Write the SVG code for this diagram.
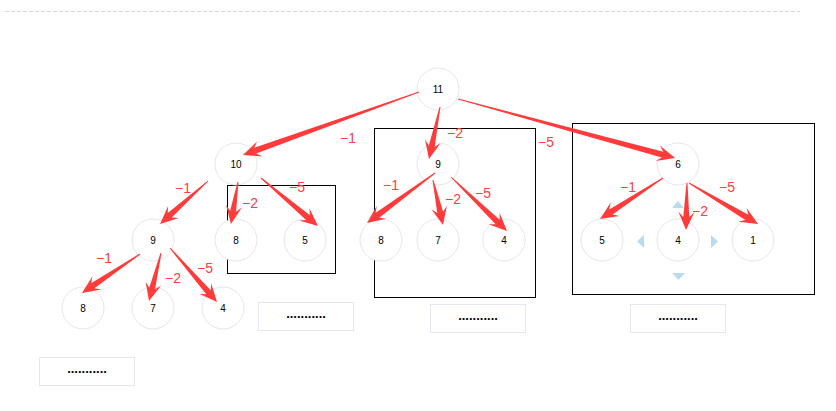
<svg xmlns="http://www.w3.org/2000/svg" width="836" height="411" viewBox="0 0 836 411">
<defs>
<style>
.node circle{fill:#fff;stroke:#e6e6ee;stroke-width:1}
.node text{font-family:"Liberation Sans",Arial,sans-serif;font-size:10px;fill:#000;text-anchor:middle;dominant-baseline:central}
.arrow{fill:#ff3b3b}
.lbl{font-family:"Liberation Sans",Arial,sans-serif;font-size:14px;fill:#ff4040;text-anchor:middle;dominant-baseline:central}
.frame{fill:none;stroke:#000;stroke-width:1}
.dots rect{fill:#fff;stroke:#e6e6ee;stroke-width:1}
.dots text{font-family:"Liberation Sans",Arial,sans-serif;font-size:13px;font-weight:bold;fill:#000;text-anchor:middle}
.tri{fill:#b8dcee}
</style>
</defs>
<rect width="836" height="411" fill="#fff"/>
<line x1="5" y1="11.5" x2="800" y2="11.5" stroke="#d8d8d8" stroke-width="1" stroke-dasharray="4,2"/>

<g id="frames">
<rect class="frame" x="227.5" y="185.5" width="108" height="88"/>
<rect class="frame" x="374.5" y="128.5" width="161" height="169"/>
<rect class="frame" x="572.5" y="123.5" width="242" height="171"/>
</g>

<g id="placeholders">
<g class="dots" id="dots1"><rect x="39.5" y="357.5" width="95" height="28"/><text x="87" y="373">...........</text></g>
<g class="dots" id="dots2"><rect x="258.5" y="302.5" width="95" height="28"/><text x="306" y="318">...........</text></g>
<g class="dots" id="dots3"><rect x="430.5" y="304.5" width="95" height="28"/><text x="478" y="320">...........</text></g>
<g class="dots" id="dots4"><rect x="630.5" y="304.5" width="95" height="28"/><text x="678" y="320">...........</text></g>
</g>

<g id="nodes">
<g class="node" id="n11"><circle cx="438" cy="89" r="21"/><text x="438" y="89">11</text></g>
<g class="node" id="n10"><circle cx="236" cy="164" r="21"/><text x="236" y="164">10</text></g>
<g class="node" id="n9m"><circle cx="438" cy="164" r="21"/><text x="438" y="164">9</text></g>
<g class="node" id="n6"><circle cx="678" cy="164" r="21"/><text x="678" y="164">6</text></g>
<g class="node" id="n9l"><circle cx="153" cy="240" r="21"/><text x="153" y="240">9</text></g>
<g class="node" id="n8a"><circle cx="236" cy="240" r="21"/><text x="236" y="240">8</text></g>
<g class="node" id="n5a"><circle cx="305" cy="240" r="21"/><text x="305" y="240">5</text></g>
<g class="node" id="n8b"><circle cx="381" cy="240" r="21"/><text x="381" y="240">8</text></g>
<g class="node" id="n7b"><circle cx="438" cy="240" r="21"/><text x="438" y="240">7</text></g>
<g class="node" id="n4b"><circle cx="504" cy="240" r="21"/><text x="504" y="240">4</text></g>
<g class="node" id="n5c"><circle cx="602" cy="240" r="21"/><text x="602" y="240">5</text></g>
<g class="node" id="n4c"><circle cx="678" cy="240" r="21"/><text x="678" y="240">4</text></g>
<g class="node" id="n1c"><circle cx="753" cy="240" r="21"/><text x="753" y="240">1</text></g>
<g class="node" id="n8d"><circle cx="83" cy="308" r="21"/><text x="83" y="308">8</text></g>
<g class="node" id="n7d"><circle cx="153" cy="308" r="21"/><text x="153" y="308">7</text></g>
<g class="node" id="n4d"><circle cx="223" cy="308" r="21"/><text x="223" y="308">4</text></g>
</g>

<g id="handles">
<polygon class="tri" points="672,208 684,208 678,201"/>
<polygon class="tri" points="644,235 644,248 637,241.5"/>
<polygon class="tri" points="711,235 711,248 718,241.5"/>
<polygon class="tri" points="672,273 685,273 678.5,280"/>
</g>

<g id="connectors">
<g transform="translate(419,92) rotate(160.3)"><polygon class="arrow" points="0,-0.5 174,-3 169,-8 187,0 169,8 174,3 0,0.5"/></g>
<g transform="translate(440,107) rotate(101.9)"><polygon class="arrow" points="0,-0.5 40,-3 35,-8 53.2,0 35,8 40,3 0,0.5"/></g>
<g transform="translate(458,99) rotate(15.21)"><polygon class="arrow" points="0,-0.5 212,-3 207,-8 225,0 207,8 212,3 0,0.5"/></g>
<g transform="translate(208,181) rotate(138.1)"><polygon class="arrow" points="0,-0.5 51.4,-3 46.4,-8 64.4,0 46.4,8 51.4,3 0,0.5"/></g>
<g transform="translate(238,182) rotate(99.5)"><polygon class="arrow" points="0,-0.5 29.6,-3 24.6,-8 42.6,0 24.6,8 29.6,3 0,0.5"/></g>
<g transform="translate(261,178) rotate(40.1)"><polygon class="arrow" points="0,-0.5 61.5,-3 56.5,-8 74.5,0 56.5,8 61.5,3 0,0.5"/></g>
<g transform="translate(140,254) rotate(146.1)"><polygon class="arrow" points="0,-0.5 56.9,-3 51.9,-8 69.9,0 51.9,8 56.9,3 0,0.5"/></g>
<g transform="translate(161,253) rotate(104)"><polygon class="arrow" points="0,-0.5 36.5,-3 31.5,-8 49.5,0 31.5,8 36.5,3 0,0.5"/></g>
<g transform="translate(170,248) rotate(48.96)"><polygon class="arrow" points="0,-0.5 58.6,-3 53.6,-8 71.6,0 53.6,8 58.6,3 0,0.5"/></g>
<g transform="translate(435,173) rotate(143.7)"><polygon class="arrow" points="0,-0.5 71.4,-3 66.4,-8 84.4,0 66.4,8 71.4,3 0,0.5"/></g>
<g transform="translate(433,180) rotate(77.47)"><polygon class="arrow" points="0,-0.5 33.1,-3 28.1,-8 46.1,0 28.1,8 33.1,3 0,0.5"/></g>
<g transform="translate(451,177) rotate(43.96)"><polygon class="arrow" points="0,-0.5 64.8,-3 59.8,-8 77.8,0 59.8,8 64.8,3 0,0.5"/></g>
<g transform="translate(663,178) rotate(146.9)"><polygon class="arrow" points="0,-0.5 62.2,-3 57.2,-8 75.2,0 57.2,8 62.2,3 0,0.5"/></g>
<g transform="translate(687,183) rotate(91.2)"><polygon class="arrow" points="0,-0.5 34,-3 29,-8 47,0 29,8 34,3 0,0.5"/></g>
<g transform="translate(689,183) rotate(30.72)"><polygon class="arrow" points="0,-0.5 67.3,-3 62.3,-8 80.3,0 62.3,8 67.3,3 0,0.5"/></g>
</g>

<g id="labels">
<text class="lbl" x="348" y="138">−1</text>
<text class="lbl" x="455" y="133">−2</text>
<text class="lbl" x="546" y="142">−5</text>
<text class="lbl" x="183" y="188">−1</text>
<text class="lbl" x="250" y="203">−2</text>
<text class="lbl" x="297" y="187">−5</text>
<text class="lbl" x="104" y="258">−1</text>
<text class="lbl" x="173" y="278">−2</text>
<text class="lbl" x="205" y="268">−5</text>
<text class="lbl" x="391" y="185">−1</text>
<text class="lbl" x="453" y="199">−2</text>
<text class="lbl" x="483" y="193">−5</text>
<text class="lbl" x="628" y="187">−1</text>
<text class="lbl" x="700" y="211">−2</text>
<text class="lbl" x="727" y="187">−5</text>
</g>
</svg>
